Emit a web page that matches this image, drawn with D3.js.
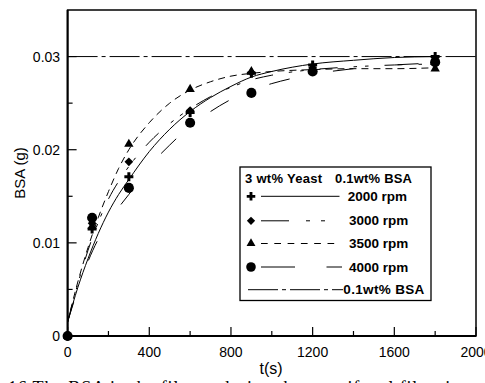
<!DOCTYPE html>
<html>
<head>
<meta charset="utf-8">
<script src="https://cdn.jsdelivr.net/npm/d3@7"></script>
<style>
body { margin:0; background:#fff; overflow:hidden; }
text { font-family: Arial, "Liberation Sans", sans-serif; }
</style>
</head>
<body>
<div id="chart"></div>
<script>
// measured points
var times = [0, 120, 300, 600, 900, 1200, 1800]
var rpm2000 = [0, 0.0115, 0.0171, 0.0240, 0.0282, 0.0291, 0.0300]
var rpm3000 = [0, 0.0121, 0.0187, 0.0242, 0.0283, 0.0288, 0.0297]
var rpm3500 = [0, 0.0118, 0.0206, 0.0265, 0.0284, 0.0287, 0.0287]
var rpm4000 = [0, 0.0127, 0.0159, 0.0229, 0.0261, 0.0284, 0.0294]

// fitted curves
var fitT = [0, 50, 100, 150, 200, 250, 300, 400, 500, 600, 700, 800, 900, 1000, 1200, 1400, 1600, 1800]
var fit2000 = [0.0015, 0.0052, 0.0083, 0.0110, 0.0133, 0.0152, 0.0168, 0.0198, 0.0222, 0.0241, 0.0256, 0.0268, 0.0278, 0.0284, 0.0292, 0.0296, 0.0299, 0.0300]
var fit3000 = [0.0015, 0.0056, 0.0092, 0.0122, 0.0147, 0.0166, 0.0182, 0.0208, 0.0228, 0.0244, 0.0257, 0.0267, 0.0275, 0.0280, 0.0286, 0.0289, 0.0291, 0.0292]
var fit3500 = [0.0015, 0.0058, 0.0095, 0.0127, 0.0155, 0.0180, 0.0200, 0.0229, 0.0250, 0.0264, 0.0273, 0.0279, 0.0282, 0.0284, 0.0286, 0.0287, 0.0287, 0.0288]
var fit4000 = [0.0015, 0.0050, 0.0080, 0.0104, 0.0123, 0.0138, 0.0152, 0.0182, 0.0205, 0.0225, 0.0241, 0.0254, 0.0264, 0.0271, 0.0281, 0.0287, 0.0291, 0.0293]
var bsaLevel = 0.03

var xTicks = [0, 400, 800, 1200, 1600, 2000]
var xMinor = [200, 600, 1000, 1400, 1800]
var yTicks = [0, 0.01, 0.02, 0.03]
var yMinor = [0.005, 0.015, 0.025]

var w = 485, h = 383
var svg = d3.select("#chart").append("svg").attr("width", w).attr("height", h)

var x = d3.scaleLinear().domain([0, 2000]).range([67.6, 476])
var y = d3.scaleLinear().domain([0, 0.035]).range([336, 10])

var series = [
	{name:"2000 rpm", pts:rpm2000, fit:fit2000, dash:null, ldash:null, sym:d3.symbolCross, size:45, rot:0},
	{name:"3000 rpm", pts:rpm3000, fit:fit3000, dash:"18,16,3.5,8,3.5,16", ldash:"28,17,4,11,4,20", sym:d3.symbolSquare, size:38, rot:45},
	{name:"3500 rpm", pts:rpm3500, fit:fit3500, dash:"7,5", ldash:"6.7,6.6", sym:d3.symbolTriangle, size:38, rot:0},
	{name:"4000 rpm", pts:rpm4000, fit:fit4000, dash:"21,44", ldash:"34,31.5", sym:d3.symbolCircle, size:80, rot:0}
]

// 0.1wt% BSA line
svg.append("line")
	.attr("x1", x(0)).attr("x2", x(2000))
	.attr("y1", y(bsaLevel)).attr("y2", y(bsaLevel))
	.attr("stroke", "#000").attr("stroke-width", 1)
	.attr("stroke-dasharray", "30,4,4,4")

var line = d3.line()
	.x(function(d){ return x(d[0]) })
	.y(function(d){ return y(d[1]) })
	.curve(d3.curveMonotoneX)

series.forEach(function(s){
	svg.append("path")
		.attr("d", line(fitT.map(function(t,i){ return [t, s.fit[i]] })))
		.attr("fill", "none").attr("stroke", "#000").attr("stroke-width", 1)
		.attr("stroke-dasharray", s.dash)
})

// markers
series.slice().reverse().forEach(function(s){
	svg.append("g").selectAll("path")
		.data(times.map(function(t,i){ return [t, s.pts[i]] }))
		.enter().append("path")
		.attr("d", d3.symbol().type(s.sym).size(s.size))
		.attr("transform", function(d){ return "translate(" + x(d[0]) + "," + y(d[1]) + ") rotate(" + s.rot + ")" })
		.attr("fill", "#000")
})

// frame
svg.append("rect")
	.attr("x", x(0)).attr("y", y(0.035))
	.attr("width", x(2000) - x(0)).attr("height", y(0) - y(0.035))
	.attr("fill", "none").attr("stroke", "#000").attr("stroke-width", 1.5)
svg.append("line").attr("x1", x(0)).attr("x2", x(0)).attr("y1", y(0.035)).attr("y2", y(0) + 1)
	.attr("stroke", "#000").attr("stroke-width", 2)
svg.append("line").attr("x1", x(0) - 1).attr("x2", x(2000)).attr("y1", y(0)).attr("y2", y(0))
	.attr("stroke", "#000").attr("stroke-width", 2)

// ticks (inward)
xTicks.forEach(function(t){
	svg.append("line").attr("x1", x(t)).attr("x2", x(t)).attr("y1", y(0)).attr("y2", y(0) - 9)
		.attr("stroke", "#000").attr("stroke-width", 1.2)
	svg.append("text").attr("x", x(t)).attr("y", y(0) + 21)
		.attr("text-anchor", "middle").attr("font-size", 14).text(t)
})
xMinor.forEach(function(t){
	svg.append("line").attr("x1", x(t)).attr("x2", x(t)).attr("y1", y(0)).attr("y2", y(0) - 5)
		.attr("stroke", "#000").attr("stroke-width", 1.2)
})
yTicks.forEach(function(t){
	svg.append("line").attr("x1", x(0)).attr("x2", x(0) + 9).attr("y1", y(t)).attr("y2", y(t))
		.attr("stroke", "#000").attr("stroke-width", 1.2)
	svg.append("text").attr("x", x(0) - 7.5).attr("y", y(t) + 5)
		.attr("text-anchor", "end").attr("font-size", 14).text(t == 0 ? "0" : d3.format(".2f")(t))
})
yMinor.forEach(function(t){
	svg.append("line").attr("x1", x(0)).attr("x2", x(0) + 5).attr("y1", y(t)).attr("y2", y(t))
		.attr("stroke", "#000").attr("stroke-width", 1.2)
})

// axis titles
svg.append("text").attr("x", 271).attr("y", 374).attr("text-anchor", "middle")
	.attr("font-size", 16).text("t(s)")
svg.append("text").attr("transform", "translate(25,173) rotate(-90)").attr("text-anchor", "middle")
	.attr("font-size", 15).text("BSA (g)")

// legend
var lg = svg.append("g")
lg.append("rect").attr("x", 240).attr("y", 167).attr("width", 191).attr("height", 133.5)
	.attr("fill", "#fff").attr("stroke", "#000").attr("stroke-width", 1.3)
lg.append("text").attr("x", 245).attr("y", 183).attr("font-size", 13).attr("font-weight", "bold")
	.attr("textLength", 77).text("3 wt% Yeast")
lg.append("text").attr("x", 335).attr("y", 183).attr("font-size", 13).attr("font-weight", "bold")
	.attr("textLength", 77).text("0.1wt% BSA")

var rowY = [196.3, 220.8, 243.5, 267, 289.7]
series.forEach(function(s, i){
	var cy = rowY[i]
	lg.append("path")
		.attr("d", d3.symbol().type(s.sym).size(s.size * 0.9))
		.attr("transform", "translate(251," + cy + ") rotate(" + s.rot + ")")
		.attr("fill", "#000")
	lg.append("line").attr("x1", 261).attr("x2", i == 3 ? 342 : 339.5).attr("y1", cy).attr("y2", cy)
		.attr("stroke", "#000").attr("stroke-width", 1).attr("stroke-dasharray", s.ldash)
	lg.append("text").attr("x", i == 0 ? 347.7 : 349).attr("y", cy + 4.5).attr("font-size", 13.5)
		.attr("font-weight", "bold").text(s.name)
})
var by = rowY[4]
lg.append("line").attr("x1", 248).attr("x2", 343).attr("y1", by).attr("y2", by)
	.attr("stroke", "#000").attr("stroke-width", 1).attr("stroke-dasharray", "30,4,4,4")
lg.append("text").attr("x", 343.3).attr("y", by + 4.5).attr("font-size", 13.5).attr("font-weight", "bold")
	.attr("textLength", 81).text("0.1wt% BSA")

// caption, cut by the bottom edge
svg.append("text").attr("x", 8).attr("y", 394)
	.style("font-family", "'Liberation Serif', 'Times New Roman', serif")
	.attr("font-size", 18).attr("textLength", 462)
	.text("16 The BSA in the filtrate during the centrifugal filtration")
</script>
</body>
</html>
